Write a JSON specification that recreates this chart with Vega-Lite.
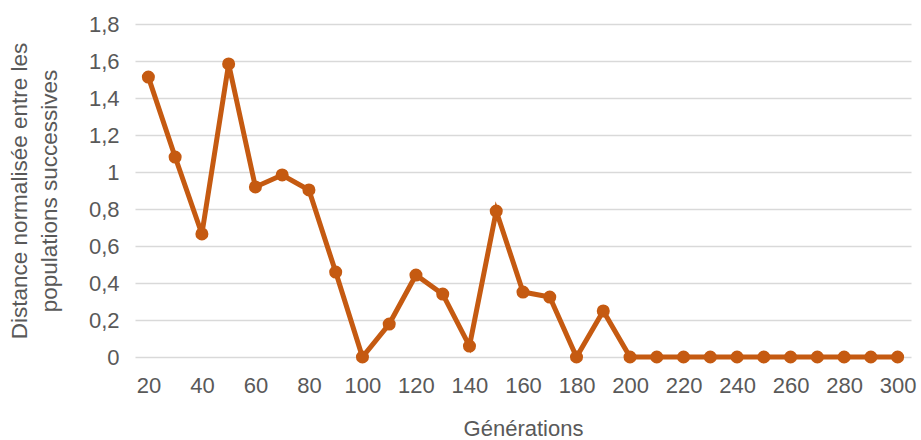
{
  "$schema": "https://vega.github.io/schema/vega-lite/v6.json",
  "width": 776,
  "height": 333,
  "autosize": {"type": "none"},
  "padding": {"left": 135, "top": 24, "right": 10, "bottom": 83},
  "background": "white",
  "config": {
    "view": {"stroke": null},
    "font": "Liberation Sans"
  },
  "data": {
    "values": [
      {"g": 20, "d": 1.513},
      {"g": 30, "d": 1.081},
      {"g": 40, "d": 0.665},
      {"g": 50, "d": 1.584},
      {"g": 60, "d": 0.919},
      {"g": 70, "d": 0.984},
      {"g": 80, "d": 0.903},
      {"g": 90, "d": 0.459},
      {"g": 100, "d": 0.0},
      {"g": 110, "d": 0.178},
      {"g": 120, "d": 0.443},
      {"g": 130, "d": 0.34},
      {"g": 140, "d": 0.059},
      {"g": 150, "d": 0.789},
      {"g": 160, "d": 0.351},
      {"g": 170, "d": 0.324},
      {"g": 180, "d": 0.0},
      {"g": 190, "d": 0.249},
      {"g": 200, "d": 0.0},
      {"g": 210, "d": 0.0},
      {"g": 220, "d": 0.0},
      {"g": 230, "d": 0.0},
      {"g": 240, "d": 0.0},
      {"g": 250, "d": 0.0},
      {"g": 260, "d": 0.0},
      {"g": 270, "d": 0.0},
      {"g": 280, "d": 0.0},
      {"g": 290, "d": 0.0},
      {"g": 300, "d": 0.0}
    ]
  },
  "mark": {
    "type": "line",
    "color": "#C55A11",
    "strokeWidth": 5,
    "point": {"filled": true, "size": 170, "color": "#C55A11", "opacity": 1}
  },
  "encoding": {
    "x": {
      "field": "g",
      "type": "ordinal",
      "sort": "ascending",
      "scale": {"type": "point", "padding": 0.5},
      "axis": {
        "title": "Générations",
        "titleFont": "Liberation Sans",
        "titleFontSize": 22,
        "titleFontWeight": "normal",
        "titleColor": "#595959",
        "titlePadding": 22,
        "labelAngle": 0,
        "labelFontSize": 22,
        "labelColor": "#595959",
        "labelPadding": 18,
        "labelExpr": "datum.value % 20 == 0 ? datum.label : ''",
        "ticks": false,
        "domain": false,
        "grid": false
      }
    },
    "y": {
      "field": "d",
      "type": "quantitative",
      "scale": {"domain": [0, 1.8], "nice": false},
      "axis": {
        "title": ["Distance normalisée entre les", "populations successives"],
        "titleFont": "Liberation Sans",
        "titleFontSize": 22.5,
        "titleFontWeight": "normal",
        "titleColor": "#595959",
        "titleLineHeight": 30,
        "titlePadding": 27,
        "values": [0, 0.2, 0.4, 0.6, 0.8, 1, 1.2, 1.4, 1.6, 1.8],
        "labelExpr": "replace(format(datum.value, '.1~f'), '.', ',')",
        "labelFontSize": 22,
        "labelColor": "#595959",
        "labelPadding": 16,
        "ticks": false,
        "domain": false,
        "grid": true,
        "gridColor": "#D9D9D9",
        "gridWidth": 1.3
      }
    }
  }
}
